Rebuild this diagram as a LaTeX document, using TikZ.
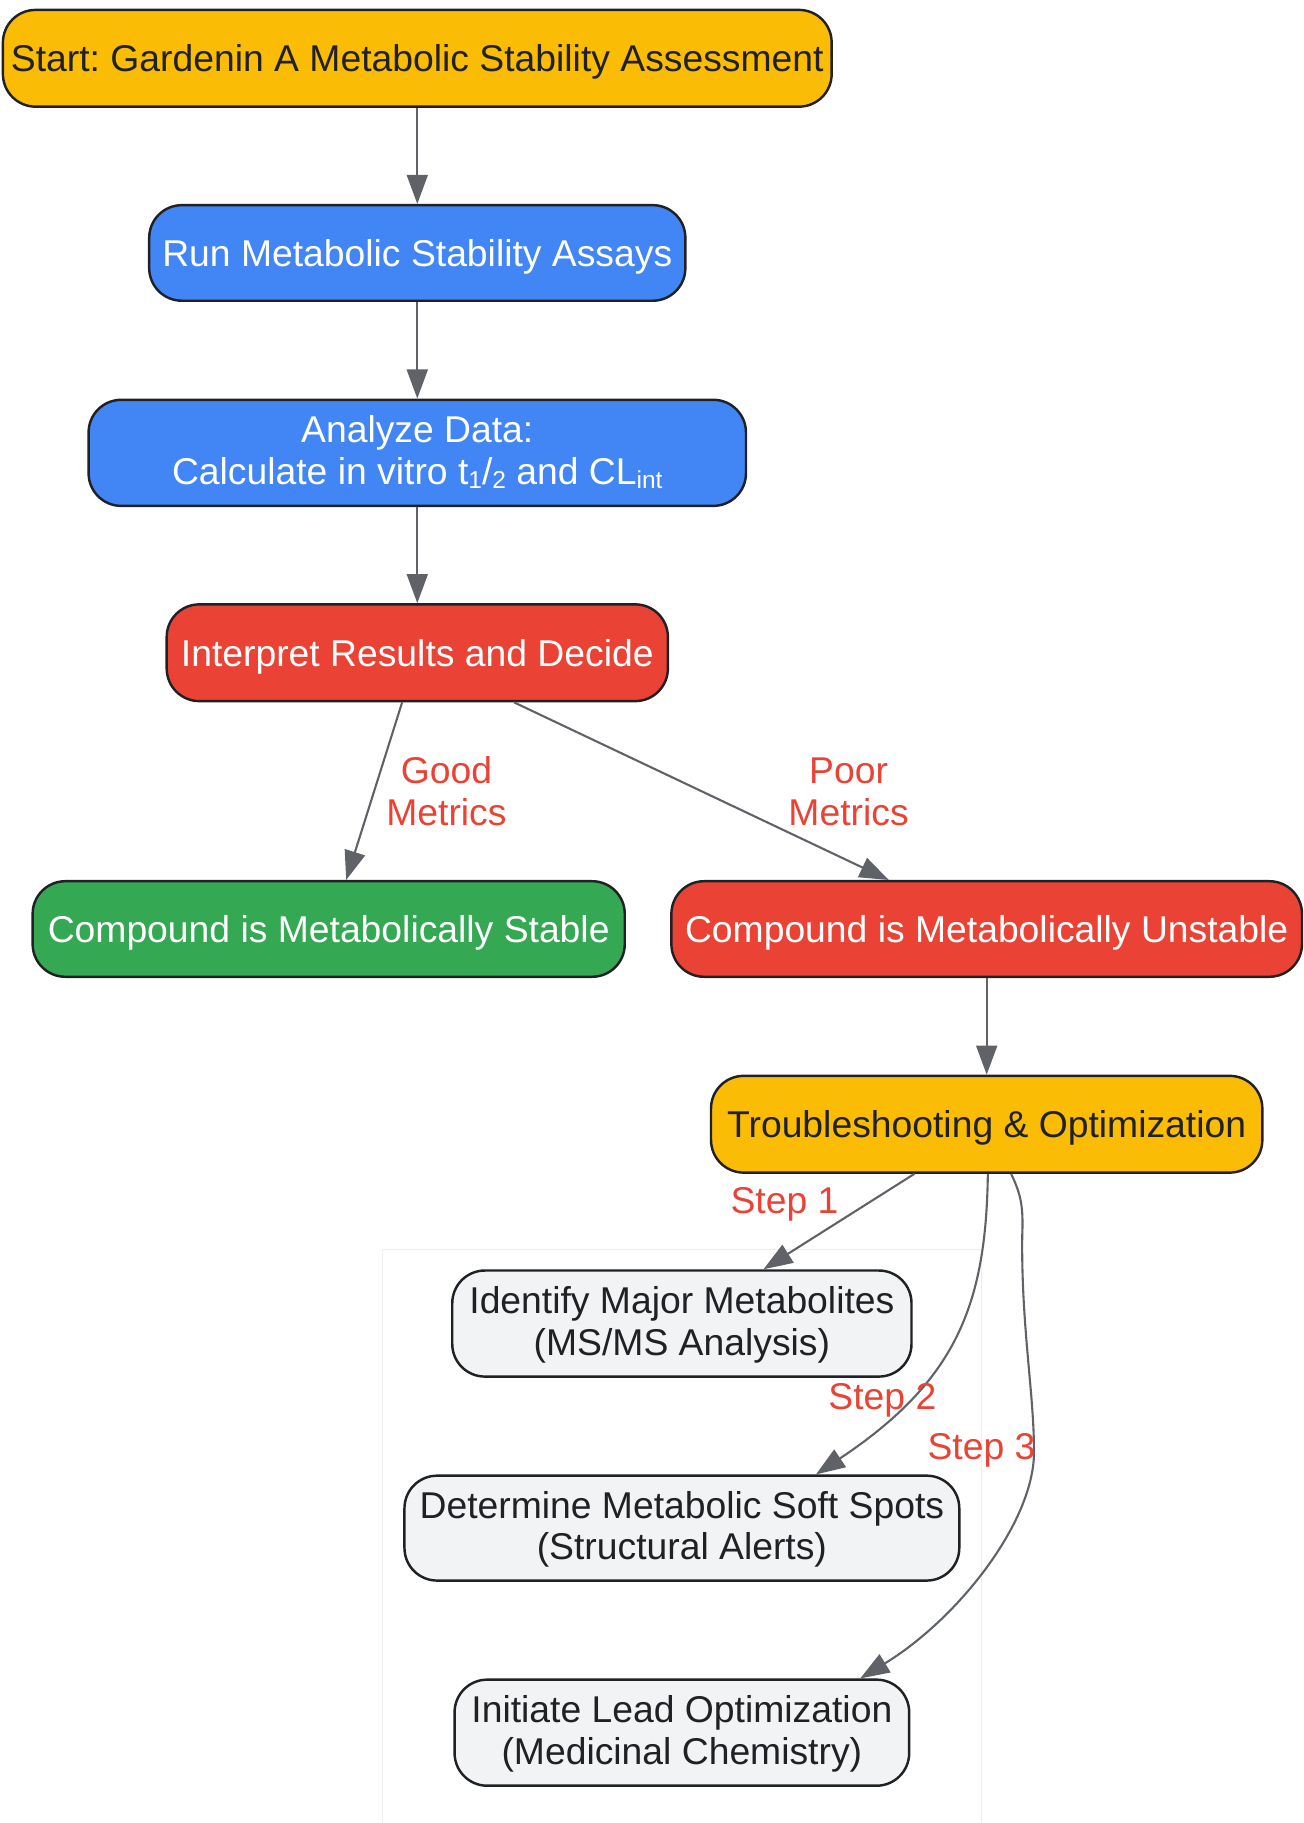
\documentclass[tikz,border=0pt]{standalone}
\usepackage{fontspec}
\setmainfont{Liberation Sans}
\usetikzlibrary{arrows.meta,calc}
\definecolor{gyellow}{HTML}{FBBC05}
\definecolor{gblue}{HTML}{4285F4}
\definecolor{gred}{HTML}{EA4335}
\definecolor{ggreen}{HTML}{34A853}
\definecolor{ggrey}{HTML}{F1F3F4}
\definecolor{darktext}{HTML}{202124}
\definecolor{edgegray}{HTML}{5F6368}
\definecolor{clustergray}{HTML}{EEEEEE}
\newcommand{\mysub}[1]{\raisebox{-3pt}{\fontsize{21}{21}\selectfont #1}}
\frenchspacing
\begin{document}
\begin{tikzpicture}[x=1pt,y=-1pt,
  box/.style={draw=darktext, line width=2.1pt, rounded corners=28pt, align=center,
    inner sep=0pt, font=\fontsize{32}{36}\selectfont},
  one/.style={text height=23pt, text depth=0pt},
  two/.style={text depth=4.5pt},
  yel/.style={box, fill=gyellow, text=darktext},
  blu/.style={box, fill=gblue, text=white},
  rd/.style={box, fill=gred, text=white},
  grn/.style={box, fill=ggreen, text=white},
  gry/.style={box, fill=ggrey, text=darktext},
  conn/.style={draw=edgegray, line width=1.8pt, -{Triangle[length=25pt,width=18pt]}},
  lbl/.style={text=gred, align=center, inner sep=0pt, font=\fontsize{32}{36}\selectfont}]
\useasboundingbox (0,0) rectangle (1118,1564);

% cluster outline
\draw[clustergray, line width=1.4pt] (328,1570) -- (328,1072) -- (842,1072) -- (842,1570);

\node[yel, one, minimum width=711pt, minimum height=83pt] (start) at (358,50) {Start: Gardenin A Metabolic Stability Assessment};
\node[blu, one, minimum width=460pt, minimum height=82pt] (run) at (358,217) {Run Metabolic Stability Assays};
\node[blu, two, minimum width=564pt, minimum height=91pt] (analyze) at (358,388.5) {Analyze Data:\\Calculate in vitro t\mysub{1}/\mysub{2} and CL\mysub{int}};
\node[rd, one, minimum width=430pt, minimum height=83pt] (interpret) at (358,560) {Interpret Results and Decide};
\node[grn, one, minimum width=508pt, minimum height=82pt] (stable) at (282,797) {Compound is Metabolically Stable};
\node[rd, one, minimum width=541pt, minimum height=82pt] (unstable) at (846.5,797) {Compound is Metabolically Unstable};
\node[yel, one, minimum width=473pt, minimum height=83pt] (trouble) at (846.5,964.5) {Troubleshooting \& Optimization};
\node[gry, two, minimum width=394pt, minimum height=91pt] (identify) at (585,1135.5) {Identify Major Metabolites\\(MS/MS Analysis)};
\node[gry, two, minimum width=476pt, minimum height=90pt] (determine) at (585,1311) {Determine Metabolic Soft Spots\\(Structural Alerts)};
\node[gry, two, minimum width=390pt, minimum height=91pt] (initiate) at (585,1486.5) {Initiate Lead Optimization\\(Medicinal Chemistry)};

\draw[conn] (start) -- (run);
\draw[conn] (run) -- (analyze);
\draw[conn] (analyze) -- (interpret);
\draw[conn] ([xshift=-13pt]interpret.south) -- ([xshift=15pt]stable.north);
\draw[conn] ([xshift=83pt]interpret.south) -- ([xshift=-84pt]unstable.north);
\draw[conn] (unstable) -- (trouble);
\draw[conn] ([xshift=-62pt]trouble.south) -- ([xshift=70pt]identify.north);
\draw[conn] ([xshift=1pt]trouble.south) .. controls (846,1120) and (820,1185) .. ([xshift=115pt]determine.north);
\draw[conn] ([xshift=21pt]trouble.south) .. controls (876,1025) and (878,1035) .. (877,1060)
   .. controls (876,1140) and (888,1200) .. (887,1250)
   .. controls (884,1310) and (820,1390) .. ([xshift=153pt]initiate.north);

\node[lbl] (lgood) at (383,679) {Good\\Metrics};
\node[lbl] (lpoor) at (728,679) {Poor\\Metrics};
\node[lbl] (lstep1) at (673,1033) {Step 1};
\node[lbl] (lstep2) at (757,1201) {Step 2};
\node[lbl] (lstep3) at (842,1244) {Step 3};
\end{tikzpicture}
\end{document}
